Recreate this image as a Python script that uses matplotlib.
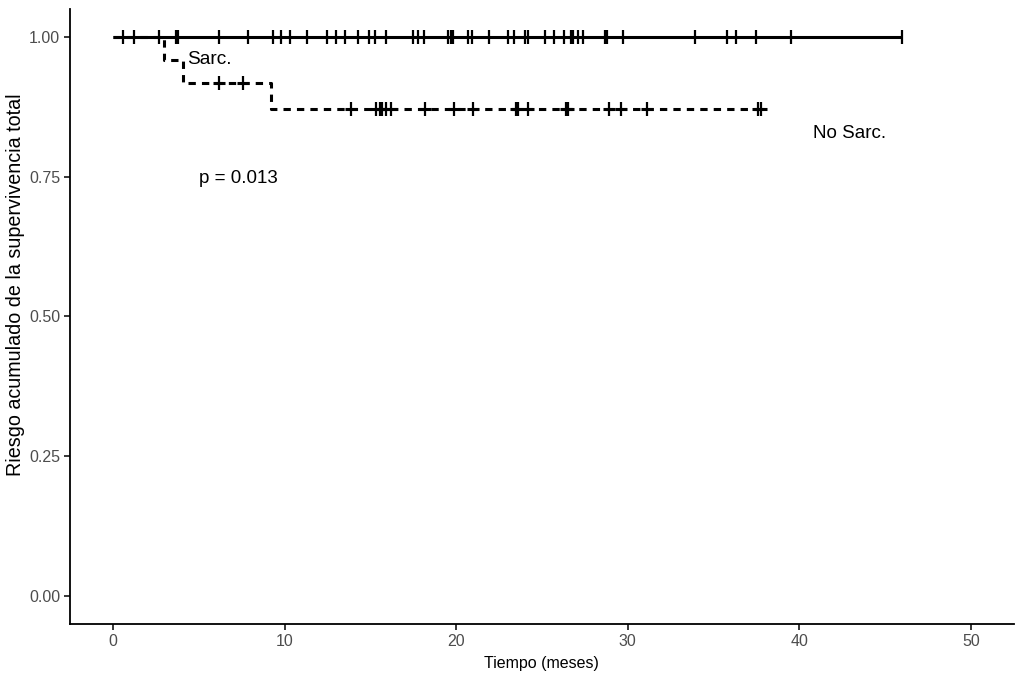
import numpy as np
import matplotlib
matplotlib.use("Agg")
import matplotlib.pyplot as plt

plt.rcParams['font.family'] = ['Liberation Sans', 'DejaVu Sans']

# No Sarc. group (no events): follow-up end and censor times (months)
nosarc_end = 46.0
nosarc_censor = [0.56, 1.2, 2.7, 3.65, 3.82, 6.2, 7.9, 9.3, 9.8, 10.3, 11.3,
                 12.5, 13.0, 13.5, 14.3, 14.9, 15.3, 15.9, 17.5, 17.8, 18.1,
                 19.5, 19.7, 19.8, 20.7, 20.95, 21.9, 23.0, 23.4, 24.0, 24.2,
                 25.2, 25.7, 26.3, 26.7, 26.8, 27.1, 27.4, 28.7, 28.8, 29.7,
                 33.9, 35.8, 36.3, 37.5, 39.5, 46.0]
nosarc_surv = 1.0

# Sarc. group: step times and survival
sarc_times = [0.0, 3.0, 4.1, 9.2, 37.9]
sarc_surv = [1.0, 0.958, 0.917, 0.871, 0.871]
sarc_censor = [6.2, 7.6, 13.9, 15.35, 15.55, 15.7, 15.9, 16.2, 18.2, 19.9, 21.0,
               23.5, 23.6, 24.2, 26.4, 26.5, 28.9, 29.6, 31.1, 37.6, 37.75]

labels = {"sarc": "Sarc.", "nosarc": "No Sarc.", "p": "p = 0.013"}
xticks = [0, 10, 20, 30, 40, 50]
yticks = [0.0, 0.25, 0.5, 0.75, 1.0]

fig = plt.figure(figsize=(10.24, 6.77), dpi=100)
ax = fig.add_axes([0.0684, 0.0783, 0.9216, 0.9084])

lw = 2.2
# No Sarc. line
ax.plot([0, nosarc_end], [nosarc_surv, nosarc_surv], color='black', lw=lw,
        solid_capstyle='butt')
ax.plot(nosarc_censor, [nosarc_surv] * len(nosarc_censor), linestyle='none',
        marker='|', markersize=10, markeredgewidth=1.6, color='black')

# Sarc. line
ax.step(sarc_times, sarc_surv, where='post', color='black', lw=lw,
        linestyle=(0, (2.4, 2.0)))
st = np.array(sarc_times)
sv = np.array(sarc_surv)
cy = [sv[np.searchsorted(st, c, side='right') - 1] for c in sarc_censor]
ax.plot(sarc_censor, cy, linestyle='none', marker='|', markersize=10,
        markeredgewidth=1.6, color='black')
ax.plot(sarc_censor, cy, linestyle='none', marker='_', markersize=8,
        markeredgewidth=2.2, color='black')

ax.text(4.3, 0.959, labels["sarc"], fontsize=13.8, ha='left', va='center')
ax.text(40.8, 0.828, labels["nosarc"], fontsize=13.5, ha='left', va='center')
ax.text(5.0, 0.746, labels["p"], fontsize=13.5, ha='left', va='center')

ax.set_xlim(-2.5, 52.5)
ax.set_ylim(-0.05, 1.05)
ax.set_xticks(xticks)
ax.set_xticklabels([str(x) for x in xticks])
ax.set_yticks(yticks)
ax.set_yticklabels([f"{y:.2f}" for y in yticks])
ax.tick_params(axis='both', direction='out', length=4, width=1.1,
               colors='black', labelcolor='#4D4D4D', labelsize=11.5, pad=3)
for s in ['top', 'right']:
    ax.spines[s].set_visible(False)
for s in ['left', 'bottom']:
    ax.spines[s].set_linewidth(1.3)

ax.set_xlabel("Tiempo (meses)", fontsize=11.5, labelpad=5)
fig.text(16 / 1024, 1 - 285 / 677, "Riesgo acumulado de la supervivencia total",
         rotation=90, fontsize=14.2, ha='center', va='center')

fig.savefig("out.png", dpi=100)
